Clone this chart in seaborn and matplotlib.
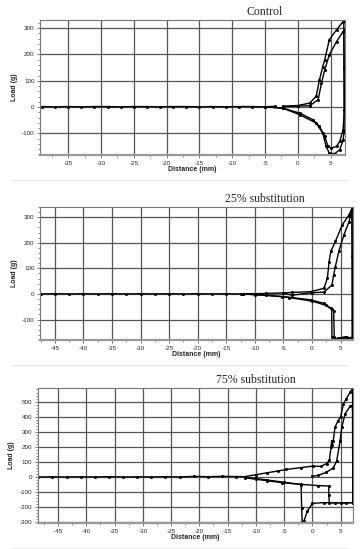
import matplotlib
matplotlib.use("Agg")
import matplotlib.pyplot as plt
import seaborn as sns
import pandas as pd
from matplotlib.ticker import MultipleLocator, AutoMinorLocator
from matplotlib.lines import Line2D

# ---- Control ----
ctrl_base_x = [-39, -37, -35, -33, -31, -29, -27, -25, -23, -21, -19, -17, -15, -13, -11, -9, -7, -5, -3.5]
ctrl_base_y = [2, 1, 2, 1, 2, 2, 1, 2, 2, 1, 2, 2, 1, 2, 1, 2, 2, 1, 3]
ctrl_a_x = [-2.3, 0, 1.8, 2.8, 3.3, 3.8, 4.1, 4.8, 5.9, 6.9, 7.0, 7.05, 7.05,
            6.9, 6.4, 5.6, 4.8, 4.3, 3.8, 2.8, 0.3, -2.3, -5]
ctrl_a_y = [3, 6, 15, 41, 104, 154, 180, 256, 294, 325, 330, 150, -95,
            -124, -162, -177, -175, -149, -99, -61, -29, -4, 1]
ctrl_b_x = [-2.3, 0, 1.8, 3.1, 3.6, 4.1, 4.8, 5.9, 6.9, 7.0, 7.1,
            6.9, 6.4, 5.9, 5.1, 4.6, 4.1, 3.3, 2.3, 0.3, -2.3, -5]
ctrl_b_y = [2, 4, 5, 28, 91, 142, 199, 249, 287, 292, -10,
            -86, -130, -149, -156, -149, -111, -73, -48, -23, -4, 1]

# ---- 25% substitution ----
s25_base_x = [-47.5, -45, -42.5, -40, -37.5, -35, -32.5, -30, -27.5, -25, -22.5, -20, -17.5, -15, -12.5, -12]
s25_base_y = [0, 1, 0, 1, 0, 1, 0, 1, 0, 1, 0, 1, 0, 1, 0, 0]
s25_a_x = [-12, -8, -5, -3.5, -0.2, 2.1, 2.7, 3.0, 3.3, 4.1, 5.3, 6.5, 7.0, 7.05, 7.05,
           6.7, 5.9, 4.6, 4.0, 3.9, 3.8, 3.3, 2.1, -0.2, -5.2, -10, -12]
s25_a_y = [0, 2, 4, 6, 9, 22, 61, 126, 166, 205, 270, 309, 335, 150, -170,
           -171, -167, -173, -175, -170, -65, -56, -37, -23, -10, -3, 0]
s25_b_x = [-5, -3.5, 0, 2.1, 3.5, 3.8, 4.1, 4.7, 5.6, 6.5, 7.0, 7.1,
           6.8, 5.5, 4.2, 3.5, 3.45, 2.5, 0, -4, -8, -12]
s25_b_y = [3, -5, 5, 7, 35, 74, 107, 166, 231, 283, 329, -170,
           -175, -172, -176, -170, -60, -45, -28, -14, -5, 0]

# ---- 75% substitution ----
s75_base_x = [-48.5, -46, -43.5, -41, -38.5, -36, -33.5, -31, -28.5, -26, -23.5, -21, -18.5, -16, -13.5, -12]
s75_base_y = [0, 1, 0, 1, 0, 2, 0, 1, 0, 2, 0, 4, 2, 4, 3, 2]
s75_a_x = [-12, -10, -8, -6, -4.6, -2, 0.1, 1.5, 2.5, 3.0, 3.3, 3.4, 3.5, 3.7, 4.0, 4.5, 5.0, 5.5, 6.0, 6.7, 7.1, 7.15, 7.15,
           6.0, 4.0, 3.0, 2.9, 2.9, 1.0, -2, -5.3, -8, -10, -12]
s75_a_y = [2, 15, 28, 40, 50, 62, 72, 70, 89, 110, 200, 240, 210, 240, 330, 370, 400, 484, 520, 562, 590, 300, -170,
           -172, -170, -172, -120, -60, -57, -49, -38, -25, -15, -5]
s75_b_x = [0, 1.0, 2.4, 3.7, 4.3, 4.9, 5.2, 5.8, 6.7, 7.1, 7.15,
           5.0, 2.0, 0, -0.9, -1.5, -1.8, -1.9, -2.0, -5, -8, -10, -12]
s75_b_y = [5, 10, 30, 60, 107, 240, 330, 420, 470, 475, -170,
           -172, -170, -175, -227, -293, -300, -204, -50, -35, -20, -10, -3]

titles = ["Control", "25% substitution", "75% substitution"]
x_ticks = [list(range(-35, 6, 5)), list(range(-45, 6, 5)), list(range(-45, 6, 5))]
y_ticks = [list(range(-100, 301, 100)), list(range(-100, 301, 100)), list(range(-300, 501, 100))]
x_lims = [(-39.3, 7.2), (-47.6, 7.2), (-48.6, 7.2)]
y_lims = [(-182, 331), (-180, 341), (-305, 590)]

panels = [
    [(ctrl_base_x, ctrl_base_y), (ctrl_a_x, ctrl_a_y), (ctrl_b_x, ctrl_b_y)],
    [(s25_base_x, s25_base_y), (s25_a_x, s25_a_y), (s25_b_x, s25_b_y)],
    [(s75_base_x, s75_base_y), (s75_a_x, s75_a_y), (s75_b_x, s75_b_y)],
]

rows = []
for p, branches in enumerate(panels):
    for b, (xs, ys) in enumerate(branches):
        for i, (xv, yv) in enumerate(zip(xs, ys)):
            rows.append({"panel": p, "branch": b, "order": i, "x": xv, "y": yv})
df = pd.DataFrame(rows)

sns.set_style("white")
plt.rcParams["font.family"] = ["Liberation Sans", "DejaVu Sans"]
plt.rcParams["axes.unicode_minus"] = False

fig = plt.figure(figsize=(3.64, 5.49), dpi=100)
boxes = [
    [0.110, 0.7177, 0.838, 0.2459],
    [0.110, 0.3807, 0.860, 0.2428],
    [0.1036, 0.0474, 0.8664, 0.2459],
]
title_pos = [(0.728, 0.978), (0.728, 0.638), (0.703, 0.308)]

for p in range(3):
    ax = fig.add_axes(boxes[p])
    sub = df[df["panel"] == p]
    sns.lineplot(data=sub, x="x", y="y", units="branch", estimator=None, sort=False,
                 color="black", lw=1.0, marker="o", markersize=2.2, markeredgewidth=0,
                 ax=ax, legend=False)
    ax.set_xlim(*x_lims[p])
    ax.set_ylim(*y_lims[p])
    ax.set_xticks(x_ticks[p])
    ax.set_yticks(y_ticks[p])
    ax.xaxis.set_minor_locator(MultipleLocator(2.5))
    ax.yaxis.set_minor_locator(AutoMinorLocator(5))
    ax.grid(True, which="major", color="#555555", lw=0.9)
    ax.set_axisbelow(True)
    ax.tick_params(which="major", direction="out", length=2.5, width=0.6, color="#666666",
                   labelsize=4.5, pad=1.5, bottom=True, left=True)
    ax.tick_params(which="minor", direction="out", length=1.5, width=0.6, color="#777777",
                   bottom=True, left=True)
    for s in ax.spines.values():
        s.set_color("#777777")
        s.set_linewidth(0.8)
    ax.spines["bottom"].set_color("#999999")
    ax.spines["bottom"].set_linewidth(1.6)
    ax.set_xlabel("Distance (mm)", fontsize=5, fontweight="bold", labelpad=0.5)
    ax.set_ylabel("Load (g)", fontsize=5, fontweight="bold", labelpad=3)
    fig.text(title_pos[p][0], title_pos[p][1], titles[p], ha="center", va="center",
             fontsize=8.5, family="Liberation Serif")
    sep_y = boxes[p][1] - 0.045
    fig.add_artist(Line2D([0.03, 0.955], [sep_y, sep_y], color="#e6e6e6", lw=0.8))

fig.savefig("out.png", dpi=100)
